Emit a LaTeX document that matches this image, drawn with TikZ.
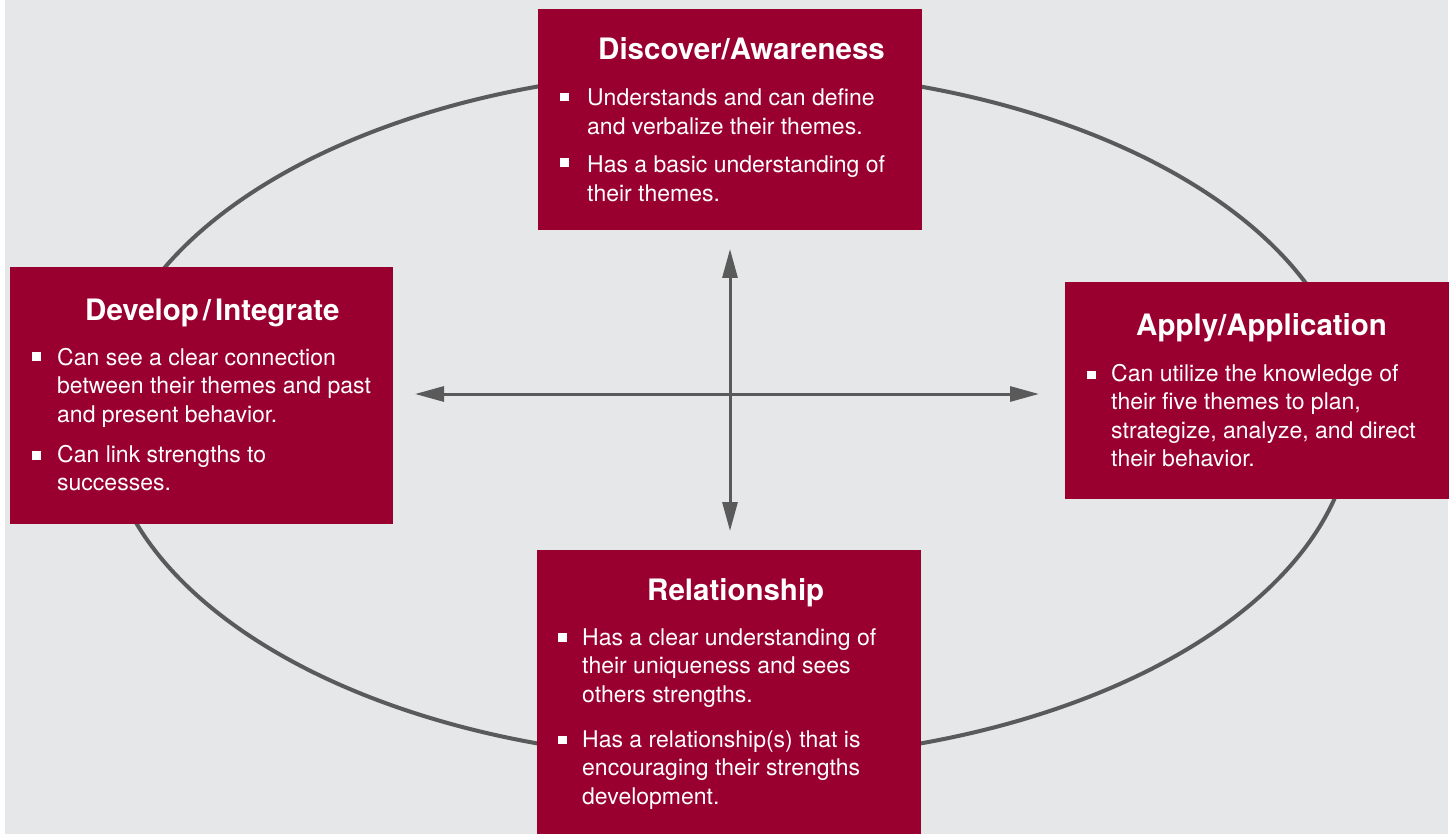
\documentclass[tikz,border=0pt]{standalone}
\usepackage{fontspec}
\setmainfont{TeX Gyre Heros}
\usetikzlibrary{arrows.meta}
\definecolor{bg}{HTML}{E6E7E9}
\definecolor{crim}{HTML}{990030}
\definecolor{lgray}{HTML}{5A5A5A}
\begin{document}
\begin{tikzpicture}[x=1pt,y=-1pt,
  boxnode/.style={fill=crim,draw=none,inner sep=0pt,anchor=north west},
  ttl/.style={text=white,inner sep=0pt,anchor=base west,font=\fontsize{29.5}{34}\selectfont\bfseries},
  txt/.style={text=white,inner sep=0pt,anchor=base west,font=\fontsize{23}{28.6}\selectfont},
  bul/.style={fill=white,draw=none,inner sep=0pt,minimum size=8.5pt},
  arr/.style={draw=lgray,line width=3pt,{Triangle[length=29pt,width=15pt]}-{Triangle[length=29pt,width=15pt]}},
  ring/.style={draw=lgray,line width=4pt}]
\useasboundingbox (0,0) rectangle (1453,834);
\fill[white] (0,0) rectangle (1453,834);
\fill[bg] (5,0) rectangle (1448,834);
\draw[ring] (729,415) ellipse [x radius=624pt, y radius=345pt];
% boxes
\node[boxnode,minimum width=384pt,minimum height=221pt] (top) at (538,9) {};
\node[boxnode,minimum width=383pt,minimum height=257pt] (left) at (10,267) {};
\node[boxnode,minimum width=384pt,minimum height=217pt] (right) at (1065,282) {};
\clip (0,0) rectangle (1453,834);
\node[boxnode,minimum width=384pt,minimum height=300pt] (bottom) at (537,550) {};
% arrows
\coordinate (vt) at (730,249);
\coordinate (vb) at (730,531);
\coordinate (hl) at (415,394);
\coordinate (hr) at (1039,394);
\draw[arr] (vt) -- (vb);
\draw[arr] (hl) -- (hr);
% top
\node[ttl] (ttop) at (598,60) {Discover/Awareness};
\node[bul] (bt1) at (564.5,97) {};
\node[txt] (xt1) at (587,106) {\begin{tabular}[t]{@{}l@{}}Understands and can define\\and verbalize their themes.\end{tabular}};
\node[bul] (bt2) at (564.5,162.5) {};
\node[txt] (xt2) at (587,173) {\begin{tabular}[t]{@{}l@{}}Has a basic understanding of\\their themes.\end{tabular}};
% left
\node[ttl] (tleft) at (85,320) {Develop\kern4pt/\kern4pt Integrate};
\node[bul] (bl1) at (36.5,356.5) {};
\node[txt] (xl1) at (57,365) {\begin{tabular}[t]{@{}l@{}}Can see a clear connection\\between their themes and past\\and present behavior.\end{tabular}};
\node[bul] (bl2) at (36.5,455.5) {};
\node[txt] (xl2) at (57,462) {\begin{tabular}[t]{@{}l@{}}Can link strengths to\\successes.\end{tabular}};
% right
\node[ttl] (tright) at (1136,335) {Apply/Application};
\node[bul] (br1) at (1091.5,375) {};
\node[txt] (xr1) at (1111,381) {\begin{tabular}[t]{@{}l@{}}Can utilize the knowledge of\\their five themes to plan,\\strategize, analyze, and direct\\their behavior.\end{tabular}};
% bottom
\node[ttl] (tbot) at (647,600) {Relationship};
\node[bul] (bb1) at (562.5,637.5) {};
\node[txt] (xb1) at (582,645) {\begin{tabular}[t]{@{}l@{}}Has a clear understanding of\\their uniqueness and sees\\others strengths.\end{tabular}};
\node[bul] (bb2) at (562.5,740) {};
\node[txt] (xb2) at (582,747) {\begin{tabular}[t]{@{}l@{}}Has a relationship(s) that is\\encouraging their strengths\\development.\end{tabular}};
\end{tikzpicture}
\end{document}
